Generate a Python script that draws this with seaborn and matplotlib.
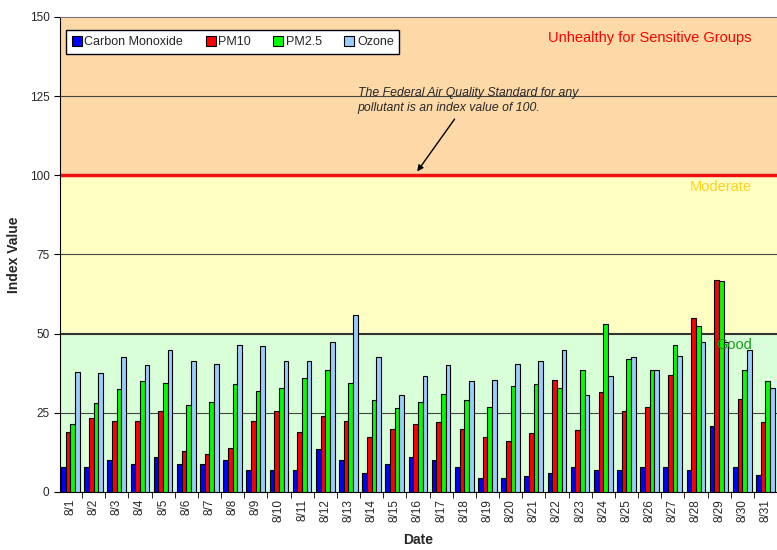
import numpy as np
import pandas as pd
import matplotlib
matplotlib.use("Agg")
import matplotlib.pyplot as plt
import seaborn as sns

# --- data ---
dates = [f"8/{d}" for d in range(1, 32)]
carbon_monoxide = [8, 8, 10, 9, 11, 9, 9, 10, 7, 7, 7, 13.5, 10, 6, 9, 11,
                   10, 8, 4.5, 4.5, 5, 6, 8, 7, 7, 8, 8, 7, 21, 8, 5.5]
pm10 = [19, 23.5, 22.5, 22.5, 25.5, 13, 12, 14, 22.5, 25.5, 19, 24, 22.5, 17.5,
        20, 21.5, 22, 20, 17.5, 16, 18.5, 35.5, 19.5, 31.5, 25.5, 27, 37, 55,
        67, 29.5, 22]
pm25 = [21.5, 28, 32.5, 35, 34.5, 27.5, 28.5, 34, 32, 33, 36, 38.5, 34.5, 29,
        26.5, 28.5, 31, 29, 27, 33.5, 34, 33, 38.5, 53, 42, 38.5, 46.5, 52.5,
        66.5, 38.5, 35]
ozone = [38, 37.5, 42.5, 40, 45, 41.5, 40.5, 46.5, 46, 41.5, 41.5, 47.5, 56,
         42.5, 30.5, 36.5, 40, 35, 35.5, 40.5, 41.5, 45, 30.5, 36.5, 42.5,
         38.5, 43, 47.5, 47.5, 45, 33]
series_names = ["Carbon Monoxide", "PM10", "PM2.5", "Ozone"]
series_colors = ["#0000FF", "#FF0000", "#00FF00", "#99CCFF"]

# long format for seaborn
df = pd.DataFrame({
    "Date": dates * 4,
    "Index Value": carbon_monoxide + pm10 + pm25 + ozone,
    "Pollutant": sum([[n] * len(dates) for n in series_names], []),
})

sns.set_style("white")
plt.rcParams["font.family"] = ["Liberation Sans", "DejaVu Sans"]

fig = plt.figure(figsize=(7.77, 5.50), dpi=100)
ax = fig.add_axes([60 / 777, 1 - 492 / 550, 1 - 60 / 777, (492 - 17) / 550])

# background bands
ax.axhspan(0, 50, color="#D9FFD9", zorder=0)
ax.axhspan(50, 100, color="#FFFFC4", zorder=0)
ax.axhspan(100, 150, color="#FDD9A8", zorder=0)
for y in [25, 75, 125]:
    ax.axhline(y, color="#444444", lw=0.8, zorder=1)
ax.axhline(50, color="#333333", lw=1.5, zorder=1)
ax.axhline(100, color="#EE1111", lw=2.5, zorder=1)

sns.barplot(data=df, x="Date", y="Index Value", hue="Pollutant",
            palette=dict(zip(series_names, series_colors)), width=0.8,
            edgecolor="black", linewidth=0.8, saturation=1, ax=ax, zorder=3)

ax.set_ylim(0, 150)
ax.set_xlim(-0.45, 30.38)
ax.set_yticks([0, 25, 50, 75, 100, 125, 150])
ax.tick_params(axis="y", labelsize=8.5, length=4, left=True, color="black")
ax.tick_params(axis="x", labelsize=8.5, rotation=90, length=0, pad=5)
# Excel style tick marks between categories
ax.set_xticks(np.arange(len(dates)) + 0.5, minor=True)
ax.tick_params(axis="x", which="minor", bottom=True, length=4, color="black")
ax.set_xlabel("Date", fontsize=10, fontweight="bold", labelpad=8)
ax.set_ylabel("Index Value", fontsize=10, fontweight="bold", labelpad=6)
for side in ["left", "bottom"]:
    ax.spines[side].set_color("black")
ax.spines["top"].set_color("#777777")
ax.spines["right"].set_visible(False)

# zone labels
ax.text(0.965, 0.955, "Unhealthy for Sensitive Groups", color="red",
        fontsize=10.5, ha="right", va="center", transform=ax.transAxes)
ax.text(0.965, 98.5, "Moderate", color="#FFD21F", fontsize=10.5, ha="right",
        va="top", transform=ax.get_yaxis_transform())
ax.text(0.965, 48.5, "Good", color="#1A9A1A", fontsize=10.5, ha="right",
        va="top", transform=ax.get_yaxis_transform(), zorder=5)

# annotation on the standard line
ax.annotate("The Federal Air Quality Standard for any\npollutant is an index value of 100.",
            xy=(14.9, 100.5), xytext=(12.4, 119.5), fontsize=8.8, style="italic",
            ha="left", va="bottom", linespacing=1.25,
            arrowprops=dict(arrowstyle="-|>", color="black", lw=1))

# legend
handles, labels = ax.get_legend_handles_labels()
leg = ax.legend(handles, labels, ncol=4, loc="upper left",
                bbox_to_anchor=(0.0, 0.985), fontsize=9, frameon=True,
                fancybox=False, edgecolor="black", framealpha=1,
                handlelength=0.8, handleheight=0.8, handletextpad=0.2,
                columnspacing=1.8, borderpad=0.45)
leg.get_frame().set_linewidth(1)

fig.savefig("out.png", dpi=100)
